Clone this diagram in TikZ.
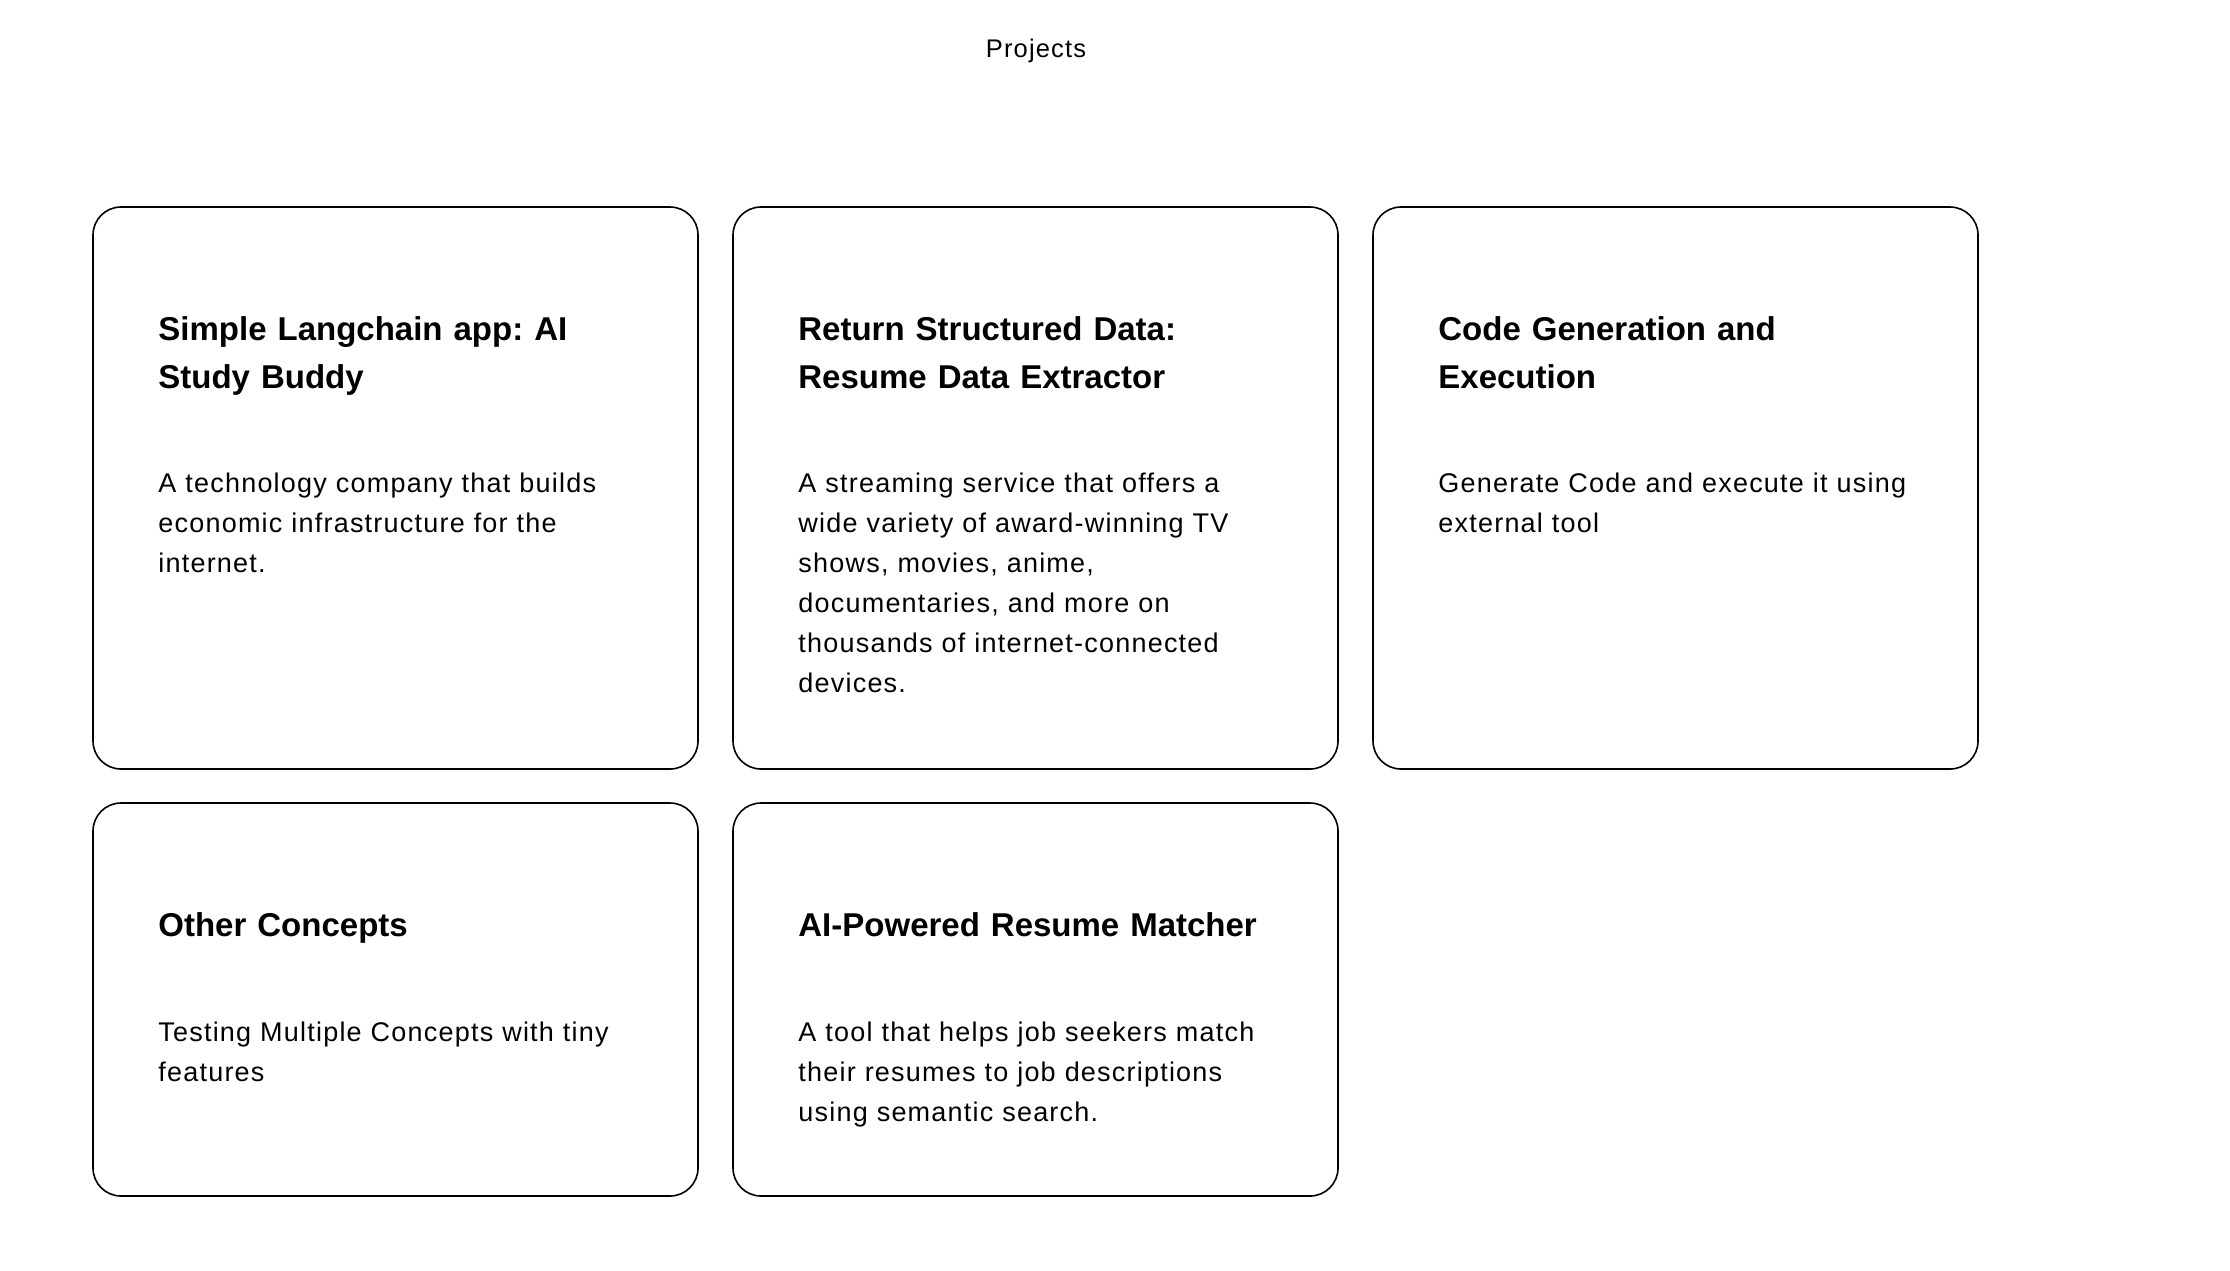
\documentclass[tikz,border=0pt]{standalone}
\usepackage{fontspec}
\setmainfont{Liberation Sans}
\newfontfamily\descfont[LetterSpace=4.5]{Liberation Sans}
\usetikzlibrary{positioning}
\frenchspacing

\begin{document}
\begin{tikzpicture}[x=0.5pt,y=-0.5pt,node distance=17.5pt,
  card/.style={draw,line width=0.8pt,rounded corners=14pt,minimum width=302.5pt,minimum height=281pt,inner sep=0pt,outer sep=0pt},
  cardtitle/.style={anchor=base west,inner sep=0pt,text width=260pt,align=left,font=\fontsize{16.5}{24}\selectfont\bfseries},
  carddesc/.style={anchor=base west,inner sep=0pt,text width=260pt,align=left,font=\descfont\fontsize{13.5}{20}\selectfont}]
\useasboundingbox (0,0) rectangle (2230,1270);
\node[anchor=base,inner sep=0pt,font=\descfont\fontsize{12.75}{15}\selectfont] (head) at (1036,57) {Projects};

\node[card,anchor=north west] (c1) at (93,207) {};
\node[card,right=of c1] (c2) {};
\node[card,right=of c2] (c3) {};
\node[card,minimum height=196.5pt,below=17pt of c1.south west,anchor=north west] (c4) {};
\node[card,minimum height=196.5pt,right=of c4] (c5) {};

\node[cardtitle] (t1) at ([shift={(65,133)}]c1.north west) {Simple Langchain app: AI\\Study Buddy};
\node[carddesc] (d1) at ([shift={(65,285)}]c1.north west) {A technology company that builds\\economic infrastructure for the\\internet.};
\node[cardtitle] (t2) at ([shift={(65,133)}]c2.north west) {Return Structured Data:\\Resume Data Extractor};
\node[carddesc] (d2) at ([shift={(65,285)}]c2.north west) {A streaming service that offers a\\wide variety of award-winning TV\\shows, movies, anime,\\documentaries, and more on\\thousands of internet-connected\\devices.};
\node[cardtitle] (t3) at ([shift={(65,133)}]c3.north west) {Code Generation and\\Execution};
\node[carddesc] (d3) at ([shift={(65,285)}]c3.north west) {Generate Code and execute it using\\external tool};
\node[cardtitle] (t4) at ([shift={(65,133)}]c4.north west) {Other Concepts};
\node[carddesc] (d4) at ([shift={(65,238)}]c4.north west) {Testing Multiple Concepts with tiny\\features};
\node[cardtitle] (t5) at ([shift={(65,133)}]c5.north west) {AI-Powered Resume Matcher};
\node[carddesc] (d5) at ([shift={(65,238)}]c5.north west) {A tool that helps job seekers match\\their resumes to job descriptions\\using semantic search.};
\end{tikzpicture}
\end{document}
